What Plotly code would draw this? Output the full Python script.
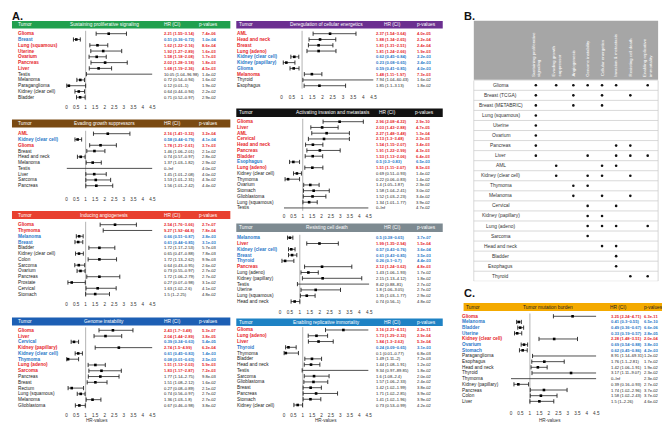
import plotly.graph_objects as go

W, H = 670, 422
INF = float("inf")
FONT = "Liberation Sans, Arial, sans-serif"
RED, BLUE, BLACK = "#e6262b", "#2a78c8", "#222222"

# ---------------- data: panel A / C forest plots ----------------
# sig: 1 = risk (red), -1 = protective (blue), 0 = not highlighted
sps_tumor = ["Glioma", "Breast", "Lung (squamous)", "Uterine", "Ovarium", "Pancreas", "Liver", "Testis",
             "Melanoma", "Paraganglioma", "Kidney (clear cell)", "Bladder"]
sps_hr = [2.21, 0.51, 1.62, 1.92, 1.58, 2.02, 1.68, 10.05, 0.72, 0.12, 0.64, 0.71]
sps_lo = [1.55, 0.36, 1.22, 1.27, 1.18, 1.28, 1.19, 1.04, 0.54, 0.01, 0.44, 0.52]
sps_hi = [3.14, 0.72, 2.16, 2.89, 2.08, 3.18, 2.36, 96.98, 0.94, 1, 0.94, 0.97]
sps_p = [7.4e-06, 1.0e-04, 8.6e-04, 1.6e-03, 1.7e-03, 1.8e-03, 4.5e-03, 1.4e-02, 1.6e-02, 1.9e-02, 2.2e-02, 2.9e-02]
sps_sig = [1, -1, 1, 1, 1, 1, 1, 0, 0, 0, 0, 0]

egs_tumor = ["AML", "Kidney (clear cell)", "Glioma", "Breast", "Head and neck", "Melanoma", "Testis", "Liver",
             "Sarcoma", "Pancreas"]
egs_hr = [2.16, 0.58, 1.78, 1.46, 0.74, 1.37, 0, 1.45, 1.53, 1.56]
egs_lo = [1.41, 0.44, 1.21, 1.06, 0.57, 1.03, 0, 1.01, 1.01, 1.01]
egs_hi = [3.32, 0.79, 2.61, 2.01, 0.97, 1.82, INF, 2.08, 2.31, 2.42]
egs_p = [3.2e-04, 4.1e-04, 3.7e-03, 2.1e-02, 2.8e-02, 2.9e-02, 4.0e-02, 4.0e-02, 4.3e-02, 4.4e-02]
egs_sig = [1, -1, 1, 0, 0, 0, 0, 0, 0, 0]

ang_tumor = ["Glioma", "Thymoma", "Melanoma", "Breast", "Bladder", "Kidney (clear cell)", "Colon", "Sarcoma",
             "Ovarium", "Pancreas", "Prostate", "Cervical", "Stomach"]
ang_hr = [2.54, 9.27, 0.66, 0.61, 1.72, 0.65, 1.72, 0.64, 0.73, 1.72, 0.27, 1.63, 1.5]
ang_lo = [1.76, 1.92, 0.51, 0.44, 1.17, 0.47, 1.13, 0.43, 0.55, 1.06, 0.07, 1.02, 1]
ang_hi = [3.66, 44.8, 0.87, 0.85, 2.53, 0.88, 2.62, 0.95, 0.97, 2.79, 0.98, 2.6, 2.25]
ang_p = [2.7e-07, 7.8e-04, 2.8e-03, 3.1e-03, 5.7e-03, 7.8e-03, 9.9e-03, 2.6e-02, 2.7e-02, 2.7e-02, 3.1e-02,
         4.1e-02, 4.8e-02]
ang_sig = [1, 1, -1, -1, 0, 0, 0, 0, 0, 0, 0, 0, 0]

gen_tumor = ["Glioma", "Liver", "Cervical", "Kidney (papillary)", "Kidney (clear cell)", "Thymoma", "Lung (adeno)",
             "Sarcoma", "Pancreas", "Breast", "Rectum", "Lung (squamous)", "Melanoma", "Glioblastoma"]
gen_hr = [2.43, 2.04, 0.39, 2.74, 0.61, 0.08, 1.51, 1.83, 1.77, 1.51, 0.27, 0.74, 1.36, 0.67]
gen_lo = [1.7, 1.44, 0.24, 1.5, 0.45, 0.01, 1.13, 1.17, 1.14, 1.08, 0.08, 0.56, 1.03, 0.46]
gen_hi = [3.48, 2.89, 0.63, 4.99, 0.83, 0.63, 2.03, 2.87, 2.75, 2.12, 0.89, 0.97, 1.8, 0.98]
gen_p = [5.3e-07, 3.8e-05, 5.4e-05, 6.2e-04, 1.4e-03, 2.5e-03, 5.9e-03, 7.2e-03, 9.8e-03, 1.6e-02, 2.1e-02,
         2.7e-02, 2.7e-02, 3.8e-02]
gen_sig = [1, 1, -1, 1, -1, -1, 1, 1, 0, 0, 0, 0, 0, 0]

ene_tumor = ["AML", "Head and neck", "Breast", "Lung (adeno)", "Kidney (clear cell)", "Kidney (papillary)",
             "Glioma", "Melanoma", "Thyroid", "Esophagus"]
ene_hr = [2.37, 1.88, 1.81, 1.81, 0.62, 0.23, 0.59, 1.48, 7.94, 1.85]
ene_lo = [1.54, 1.34, 1.31, 1.24, 0.45, 0.08, 0.41, 1.11, 1.04, 1.1]
ene_hi = [3.64, 2.65, 2.51, 2.66, 0.84, 0.65, 0.85, 1.97, 60.43, 3.13]
ene_p = [4.0e-05, 2.2e-04, 2.4e-04, 1.9e-03, 2.2e-03, 2.4e-03, 4.0e-03, 7.3e-03, 1.6e-02, 1.8e-02]
ene_sig = [1, 1, 1, 1, -1, -1, -1, 1, 0, 0]

inv_tumor = ["Glioma", "Liver", "AML", "Cervical", "Head and neck", "Pancreas", "Bladder", "Esophagus",
             "Lung (adeno)", "Kidney (clear cell)", "Thymoma", "Ovarium", "Stomach", "Glioblastoma",
             "Lung (squamous)", "Testis"]
inv_hr = [2.96, 2.03, 2.27, 2.13, 1.54, 1.91, 1.53, 0.5, 1.51, 0.69, 0.22, 1.4, 1.58, 1.52, 1.34, 0]
inv_lo = [2.08, 1.43, 1.48, 1.3, 1.15, 1.22, 1.13, 0.3, 1.11, 0.51, 0.06, 1.05, 1.04, 1.03, 1.01, 0]
inv_hi = [4.22, 2.88, 3.48, 3.48, 2.07, 2.99, 2.06, 0.83, 2.07, 0.93, 0.83, 1.87, 2.41, 2.23, 1.77, INF]
inv_p = [2.9e-10, 4.7e-05, 1.3e-04, 2.3e-03, 3.4e-03, 4.3e-03, 6.4e-03, 6.5e-03, 8.5e-03, 1.4e-02, 1.4e-02,
         2.3e-02, 3.0e-02, 3.4e-02, 3.9e-02, 4.7e-02]
inv_sig = [1, 1, 1, 1, 1, 1, 1, -1, 1, 0, 0, 0, 0, 0, 0, 0]

rcd_tumor = ["Melanoma", "Liver", "Kidney (clear cell)", "Breast", "Thyroid", "Pancreas", "Lung (adeno)",
             "Kidney (papillary)", "Testis", "Uterine", "Lung (squamous)", "Head and neck"]
rcd_hr = [0.5, 1.99, 0.57, 0.61, 0.26, 2.12, 1.43, 2.15, 8.42, 1.8, 1.35, 0.74]
rcd_lo = [0.38, 1.35, 0.43, 0.43, 0.1, 1.24, 1.06, 1.13, 0.88, 1.06, 1.03, 0.56]
rcd_hi = [0.65, 2.94, 0.76, 0.85, 0.7, 3.62, 1.93, 4.12, 81, 3.05, 1.77, 1]
rcd_p = [3.7e-07, 1.5e-04, 3.6e-04, 3.5e-03, 4.4e-03, 4.8e-03, 1.7e-02, 1.8e-02, 2.7e-02, 2.7e-02, 2.9e-02,
         4.8e-02]
rcd_sig = [-1, 1, -1, -1, -1, 1, 0, 0, 0, 0, 0, 0]

rim_tumor = ["Glioma", "Lung (adeno)", "Liver", "Thyroid", "Thymoma", "Bladder", "Head and neck", "Testis",
             "Sarcoma", "Glioblastoma", "Breast", "Pancreas", "Stomach", "Kidney (clear cell)"]
rim_hr = [3.16, 1.73, 1.84, 0.24, 0.1, 1.49, 1.44, 9.34, 1.6, 1.57, 1.42, 1.71, 1.41, 0.73]
rim_lo = [2.21, 1.29, 1.3, 0.09, 0.01, 1.11, 1.08, 0.97, 1.08, 1.06, 1.02, 1.02, 1.02, 0.53]
rim_hi = [4.51, 2.32, 2.62, 0.65, 0.77, 2, 1.91, 89.85, 2.4, 2.33, 1.99, 2.85, 1.96, 0.99]
rim_p = [2.2e-11, 2.9e-04, 5.3e-04, 3.1e-03, 6.8e-03, 7.2e-03, 1.2e-02, 1.8e-02, 2.0e-02, 2.4e-02, 3.8e-02,
         3.9e-02, 3.9e-02, 4.2e-02]
rim_sig = [1, 1, 1, -1, 0, 0, 0, 0, 0, 0, 0, 0, 0, 0]

tmb_tumor = ["Glioma", "Melanoma", "Bladder", "Uterine", "Kidney (clear cell)", "Ovarium", "Stomach",
             "Paraganglioma", "Esophagus", "Head and neck", "Thyroid", "Thymoma", "Kidney (papillary)",
             "Pancreas", "Colon", "Liver"]
tmb_hr = [3.25, 0.41, 0.49, 0.33, 2.28, 0.69, 0.62, 8.91, 1.76, 1.42, 3.17, 0, 0.39, 1.74, 1.58, 1.5]
tmb_lo = [2.24, 0.3, 0.36, 0.19, 1.48, 0.54, 0.45, 1.14, 1.1, 1.06, 1.11, 0, 0.16, 1.02, 1.02, 1]
tmb_hi = [4.71, 0.55, 0.67, 0.57, 3.51, 0.88, 0.86, 69.31, 2.81, 1.91, 9.07, INF, 0.93, 2.96, 2.43, 2.26]
tmb_p = [6.3e-11, 6.5e-10, 6.6e-06, 2.8e-05, 2.0e-04, 3.8e-03, 4.2e-03, 1.2e-02, 1.7e-02, 1.9e-02, 2.3e-02,
         2.3e-02, 2.7e-02, 3.7e-02, 3.7e-02, 4.6e-02]
tmb_sig = [1, -1, -1, -1, 1, -1, -1, 0, 0, 0, 0, 0, 0, 0, 0, 0]

hr_ticks = [0, 0.5, 1, 1.5, 2, 2.5, 3, 3.5, 4, 4.5]

# ---------------- data: panel B summary table ----------------
b_hallmarks = ["Sustaining proliferative<br>signaling", "Evading growth<br>suppressor", "Angiogenesis",
               "Genome instability", "Cellular energetics", "Invasion & metastasis", "Resisting cell death",
               "Enabling replicative<br>immortality"]
b_tumors = ["Glioma", "Breast (TCGA)", "Breast (METABRIC)", "Lung (squamous)", "Uterine", "Ovarium", "Pancreas",
            "Liver", "AML", "Kidney (clear cell)", "Thymoma", "Melanoma", "Cervical", "Kidney (papillary)",
            "Lung (adeno)", "Sarcoma", "Head and neck", "Bladder", "Esophagus", "Thyroid"]
b_sustaining = ["Glioma", "Breast (TCGA)", "Breast (METABRIC)", "Lung (squamous)", "Uterine", "Ovarium",
                "Pancreas", "Liver"]
b_evading = ["Glioma", "AML", "Kidney (clear cell)"]
b_angio = ["Glioma", "Breast (TCGA)", "Breast (METABRIC)", "Thymoma", "Melanoma"]
b_genome = ["Glioma", "Liver", "Kidney (clear cell)", "Thymoma", "Cervical", "Kidney (papillary)",
            "Lung (adeno)", "Sarcoma"]
b_energetics = ["Glioma", "Breast (TCGA)", "Breast (METABRIC)", "AML", "Kidney (clear cell)", "Melanoma",
                "Kidney (papillary)", "Lung (adeno)", "Head and neck"]
b_invasion = ["Glioma", "Pancreas", "Liver", "AML", "Cervical", "Lung (adeno)", "Head and neck", "Bladder",
              "Esophagus"]
b_death = ["Breast (TCGA)", "Pancreas", "Liver", "Kidney (clear cell)", "Melanoma", "Thyroid"]
b_immortality = ["Glioma", "Liver", "Lung (adeno)", "Thyroid"]
b_members = [b_sustaining, b_evading, b_angio, b_genome, b_energetics, b_invasion, b_death, b_immortality]

# ---------------- layout (pixel geometry) ----------------
COL1 = dict(bar_x=(3, 223), name_x=9, tumor_x=9, x0=58, x45=144.5, hr_x=156, p_x=194,
            hrh_x=165, ph_x=201, title_x=96)
COL2 = dict(bar_x=(229, 437), name_x=229.5, tumor_x=232, x0=275, x45=365, hr_x=369.5, p_x=411,
            hrh_x=386.5, ph_x=420.5, title_x=320)
COLC = dict(bar_x=(458, 670), name_x=456.5, tumor_x=460, x0=505.7, x45=591.7, hr_x=606.5, p_x=640,
            hrh_x=614, ph_x=649, title_x=543)

panels = [
    dict(col=COL1, title="Sustaining proliferative signaling", color="#21a04e", tcolor="white",
         d=(sps_tumor, sps_hr, sps_lo, sps_hi, sps_p, sps_sig), bar_y=(13, 20.5), row0=25.7, step=5.78,
         tick_y=99.3),
    dict(col=COL1, title="Evading growth suppressors", color="#7a4a12", tcolor="white",
         d=(egs_tumor, egs_hr, egs_lo, egs_hi, egs_p, egs_sig), bar_y=(111.5, 119.5), row0=125.7, step=5.78,
         tick_y=191.5),
    dict(col=COL1, title="Inducing angiogenesis", color="#e8402f", tcolor="white",
         d=(ang_tumor, ang_hr, ang_lo, ang_hi, ang_p, ang_sig), bar_y=(203, 211), row0=216.7, step=5.78,
         tick_y=296.7),
    dict(col=COL1, title="Genome instability", color="#1d5fb4", tcolor="white",
         d=(gen_tumor, gen_hr, gen_lo, gen_hi, gen_p, gen_sig), bar_y=(309.5, 317.5), row0=322.3, step=5.78,
         tick_y=407.5, xlab=(89, 412.5)),
    dict(col=dict(COL2, x0=274.7, x45=367.3), title="Deregulation of cellular energetics", color="#6b2f90",
         tcolor="white", d=(ene_tumor, ene_hr, ene_lo, ene_hi, ene_p, ene_sig), bar_y=(13, 20.5), row0=25.7,
         step=5.78, tick_y=89.3),
    dict(col=dict(COL2, x0=277, x45=362.3, p_x=409.7, title_x=326, hrh_x=381, ph_x=419),
         title="Activating invasion and metastasis", color="#111111", tcolor="white",
         d=(inv_tumor, inv_hr, inv_lo, inv_hi, inv_p, inv_sig), bar_y=(100.5, 109), row0=113.7, step=5.75,
         tick_y=208.7),
    dict(col=dict(COL2, x0=273, x45=363), title="Resisting cell death", color="#7d8a91", tcolor="white",
         d=(rcd_tumor, rcd_hr, rcd_lo, rcd_hi, rcd_p, rcd_sig), bar_y=(215.5, 224), row0=229.7, step=5.8,
         tick_y=304.7),
    dict(col=dict(COL2, x0=277, x45=362.3), title="Enabling replicative immortality", color="#1e82c4",
         tcolor="white", d=(rim_tumor, rim_hr, rim_lo, rim_hi, rim_p, rim_sig), bar_y=(310.5, 318), row0=322,
         step=5.77, tick_y=407.5, xlab=(319.5, 412.5)),
    dict(col=COLC, title="Tumor mutation burden", color="#f4aa00", tcolor="#222222",
         d=(tmb_tumor, tmb_hr, tmb_lo, tmb_hi, tmb_p, tmb_sig), bar_y=(295, 303), row0=308.3, step=5.67,
         tick_y=406, xlab=(545, 412.5)),
]

NAME_FS, NUM_FS, HEAD_FS, TICK_FS = 4.7, 4.1, 4.8, 4.6
XMAX = 4.5


def px(x):
    return x / W


def py(y):
    return 1 - y / H


def fmt(v):
    return "{:g}".format(v)


def ann(x, y, text, size, color="#222222", xref="paper", yref="paper", xanchor="left", yanchor="middle",
        bold=False, **kw):
    if bold:
        text = "<b>" + text + "</b>"
    return dict(x=x, y=y, xref=xref, yref=yref, text=text, showarrow=False, xanchor=xanchor, yanchor=yanchor,
                borderpad=0, borderwidth=0, font=dict(size=size, color=color, family=FONT), **kw)


fig = go.Figure()
annotations, shapes = [], []
layout_axes = {}

for k, pn in enumerate(panels, start=1):
    c = pn["col"]
    names, hr, lo, hi, pv, sig = pn["d"]
    n = len(names)
    xa = "x" if k == 1 else "x%d" % k
    ya = "y" if k == 1 else "y%d" % k
    xkey = "xaxis" if k == 1 else "xaxis%d" % k
    ykey = "yaxis" if k == 1 else "yaxis%d" % k
    top = pn["row0"] - pn["step"] / 2
    bot = pn["row0"] + (n - 1) * pn["step"] + pn["step"] / 2
    layout_axes[xkey] = dict(domain=[px(c["x0"]), px(c["x45"])], range=[0, XMAX], anchor="free",
                             position=py(pn["tick_y"] - 4.4), tickvals=hr_ticks,
                             ticktext=[fmt(t) for t in hr_ticks], showgrid=False, zeroline=False,
                             showline=False, ticks="", tickfont=dict(size=TICK_FS, color="#333", family=FONT),
                             fixedrange=True)
    layout_axes[ykey] = dict(domain=[py(bot), py(top)], range=[n - 0.5, -0.5], anchor="free",
                             position=px(c["x0"]), visible=False, fixedrange=True)

    # reference line at HR = 1
    shapes.append(dict(type="line", xref=xa, yref=ya + " domain", x0=1, x1=1, y0=0, y1=1,
                       line=dict(color="#a0a0a0", width=0.8), layer="below"))

    # CI lines, caps, points
    lx, ly, cx, cy, mx, my = [], [], [], [], [], []
    for i in range(n):
        a, b = max(lo[i], 0), min(hi[i], XMAX)
        lx += [a, b, None]
        ly += [i, i, None]
        if 0 < lo[i] <= XMAX:
            cx.append(lo[i]); cy.append(i)
        if hi[i] <= XMAX:
            cx.append(hi[i]); cy.append(i)
        if 0 < hr[i] <= XMAX:
            mx.append(hr[i]); my.append(i)
    fig.add_trace(go.Scatter(x=lx, y=ly, mode="lines", line=dict(color="#3c3c3c", width=0.9),
                             xaxis=xa, yaxis=ya, hoverinfo="skip"))
    fig.add_trace(go.Scatter(x=cx, y=cy, mode="markers", cliponaxis=False, xaxis=xa, yaxis=ya,
                             marker=dict(symbol="line-ns", size=3, line=dict(width=0.9, color="#222")),
                             hoverinfo="skip"))
    fig.add_trace(go.Scatter(x=mx, y=my, mode="markers", cliponaxis=False, xaxis=xa, yaxis=ya,
                             marker=dict(symbol="square", size=2.6, color="#000"), hoverinfo="skip"))

    # header bar
    bx0, bx1 = c["bar_x"]
    by0, by1 = pn["bar_y"]
    shapes.append(dict(type="rect", xref="paper", yref="paper", x0=px(bx0), x1=px(bx1), y0=py(by1), y1=py(by0),
                       fillcolor=pn["color"], line=dict(width=0), layer="below"))
    yc = py((by0 + by1) / 2)
    tc = pn["tcolor"]
    annotations.append(ann(px(c["tumor_x"]), yc, "Tumor", HEAD_FS, tc))
    annotations.append(ann(px(c["title_x"]), yc, pn["title"], HEAD_FS, tc, xanchor="center"))
    annotations.append(ann(px(c["hrh_x"]), yc, "HR (CI)", HEAD_FS, tc, xanchor="center"))
    annotations.append(ann(px(c["ph_x"]), yc, "p-values", HEAD_FS, tc, xanchor="center"))

    # row texts
    for i in range(n):
        col = RED if sig[i] > 0 else (BLUE if sig[i] < 0 else BLACK)
        bold = sig[i] != 0
        if hi[i] == INF:
            ci = "%s\u2013Inf" % fmt(lo[i])
        else:
            ci = "%s (%s\u2013%s)" % (fmt(hr[i]), fmt(lo[i]), fmt(hi[i]))
        annotations.append(ann(px(c["name_x"]), i, names[i], NAME_FS, col, yref=ya, bold=bold))
        annotations.append(ann(px(c["hr_x"]), i, ci, NUM_FS, col, yref=ya, bold=bold))
        annotations.append(ann(px(c["p_x"]), i, "{:.1e}".format(pv[i]), NUM_FS, col, yref=ya, bold=bold))

    if "xlab" in pn:
        annotations.append(ann(px(pn["xlab"][0]), py(pn["xlab"][1]), "HR-values", TICK_FS, "#333",
                               xanchor="center"))

# ---------------- panel B ----------------
kb = len(panels) + 1
xa, ya = "x%d" % kb, "y%d" % kb
B_LEFT, B_RIGHT, B_HTOP, B_HBOT = 468.3, 654, 12.7, 71.7
B_ROW0, B_STEP = 77.3, 10.05
B_COLS = [62.5, 83.0, 100.3, 114.7, 129.2, 143.4, 157.7, 175.2]   # column centres, px from table left
B_LABEL = 27
nb = len(b_tumors)
b_top = B_ROW0 - B_STEP / 2
b_bot = B_ROW0 + (nb - 1) * B_STEP + B_STEP / 2
layout_axes["xaxis%d" % kb] = dict(domain=[px(B_LEFT), px(B_RIGHT)], range=[0, B_RIGHT - B_LEFT],
                                   anchor="free", position=0, visible=False, fixedrange=True)
layout_axes["yaxis%d" % kb] = dict(domain=[py(b_bot), py(b_top)], range=[nb - 0.5, -0.5], anchor="free",
                                   position=px(B_LEFT), visible=False, fixedrange=True)

shapes.append(dict(type="rect", xref="paper", yref="paper", x0=px(B_LEFT), x1=px(B_RIGHT), y0=py(B_HBOT),
                   y1=py(B_HTOP), fillcolor="#a6a6a6", line=dict(width=0), layer="below"))
for i in range(nb + 1):
    shapes.append(dict(type="line", xref=xa + " domain", yref=ya, x0=0, x1=1, y0=i - 0.5, y1=i - 0.5,
                       line=dict(color="#c8c8c8", width=0.7), layer="below"))
for xd in (0, 1):
    shapes.append(dict(type="line", xref=xa + " domain", yref=ya, x0=xd, x1=xd, y0=-0.5, y1=nb - 0.5,
                       line=dict(color="#c8c8c8", width=0.7), layer="below"))

dx, dy = [], []
for j, members in enumerate(b_members):
    for t in members:
        dx.append(B_COLS[j])
        dy.append(b_tumors.index(t))
fig.add_trace(go.Scatter(x=dx, y=dy, mode="markers", xaxis=xa, yaxis=ya, cliponaxis=False,
                         marker=dict(symbol="circle", size=2.6, color="#111"), hoverinfo="skip"))

for i, t in enumerate(b_tumors):
    annotations.append(ann(B_LABEL, i, t, 4.9, "#333", xref=xa, yref=ya, xanchor="center"))
for j, h in enumerate(b_hallmarks):
    annotations.append(ann(B_COLS[j], py(B_HBOT - 3), h, 4.4, "white", xref=xa, xanchor="center",
                           yanchor="bottom", textangle=-90, align="left"))

# panel letters
annotations.append(ann(px(3), py(7.5), "A.", 11, "#111", bold=True))
annotations.append(ann(px(458), py(7.5), "B.", 11, "#111", bold=True))
annotations.append(ann(px(458), py(285), "C.", 11, "#111", bold=True))

fig.update_layout(width=W, height=H, margin=dict(l=0, r=0, t=0, b=0), paper_bgcolor="white",
                  plot_bgcolor="rgba(0,0,0,0)", showlegend=False, annotations=annotations, shapes=shapes,
                  font=dict(family=FONT), **layout_axes)
fig.write_html("out.html")
